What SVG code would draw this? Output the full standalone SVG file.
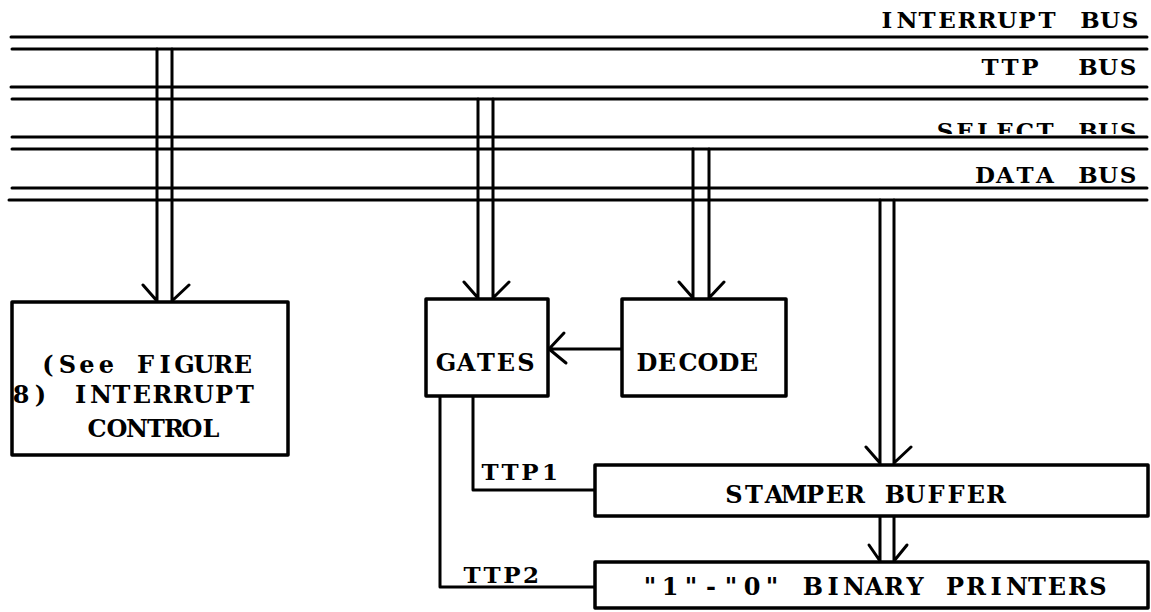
<svg xmlns="http://www.w3.org/2000/svg" width="1151" height="612" viewBox="0 0 1151 612">
<style>
.ln{stroke:#000;stroke-width:3;fill:none;stroke-linecap:round;stroke-linejoin:round}
.bx{stroke:#000;stroke-width:3.5;fill:#fff;stroke-linejoin:round}
.t{font-family:"DejaVu Serif","Liberation Serif",serif;font-weight:bold;font-size:23px;text-anchor:middle;fill:#000}
.b{font-size:24px}
</style>
<defs>
<clipPath id="selclip"><rect x="900" y="100" width="251" height="34"/></clipPath>
</defs>
<rect width="1151" height="612" fill="#fff"/>
<g id="buses">
<line class="ln" x1="11" y1="37" x2="1147" y2="37"/>
<line class="ln" x1="12" y1="49" x2="1147" y2="49"/>
<line class="ln" x1="11" y1="87" x2="1147" y2="87"/>
<line class="ln" x1="12" y1="99" x2="1147" y2="99"/>
<line class="ln" x1="12" y1="137" x2="1147" y2="137"/>
<line class="ln" x1="12" y1="149" x2="1147" y2="149"/>
<line class="ln" x1="12" y1="188" x2="1147" y2="188"/>
<line class="ln" x1="9" y1="200" x2="1147" y2="200"/>
<text class="t" x="887 907 927 947 967 987 1007 1027 1047 1068 1090 1110 1130" y="28">INTERRUPT BUS</text>
<text class="t" x="990 1010 1030 1059 1088 1108 1128" y="75">TTP BUS</text>
<text class="t" clip-path="url(#selclip)" x="945 965 985 1005 1025 1045 1066 1088 1108 1128" y="139">SELECT BUS</text>
<text class="t" x="985 1005 1025 1045 1066 1088 1108 1128" y="183">DATA BUS</text>
</g>
<g id="connectors">
<path class="ln" d="M157 49V302M172 49V302M143 285L157 301M172 301L189 285"/>
<path class="ln" d="M478 99V299M493 99V299M464 282L478 298M493 298L509 282"/>
<path class="ln" d="M693 149V299M709 149V299M679 282L693 298M709 298L724 282"/>
<path class="ln" d="M880 200V464M894 200V464M866 447L880 463M894 463L911 447"/>
<path class="ln" d="M880 516V562M894 516V562M869 545L880 561M894 561L907 545"/>
<path class="ln" d="M622 349H549M564 333L549 349L566 363"/>
<path class="ln" d="M473 396V490H595"/>
<path class="ln" d="M440 396V587H595"/>
<text class="t" x="490 510 530 550" y="480">TTP1</text>
<text class="t" x="472 492 512 531" y="583">TTP2</text>
</g>
<g id="interrupt-control">
<rect class="bx" x="12" y="302" width="276" height="153"/>
<text class="t b" x="48 67.5 87 106.5 126 145.5 165 184.5 204 223.5 243" y="373">(See FIGURE</text>
<text class="t b" x="21 40.5 60 80.5 101 121.5 142 162.5 183 203.5 224 245" y="403">8) INTERRUPT</text>
<text class="t b" x="97 117 137 156 174 192 211" y="437">CONTROL</text>
</g>
<g id="gates">
<rect class="bx" x="426" y="299" width="122" height="97"/>
<text class="t b" x="446 466 486 506 526" y="371">GATES</text>
</g>
<g id="decode">
<rect class="bx" x="622" y="299" width="164" height="97"/>
<text class="t b" x="647 667 688 708 729 749" y="371">DECODE</text>
</g>
<g id="stamper-buffer">
<rect class="bx" x="595" y="465" width="553" height="51"/>
<text class="t b" x="734 754 774 794 815 835 855 875 895 915 936 956 976 996" y="503">STAMPER BUFFER</text>
</g>
<g id="binary-printers">
<rect class="bx" x="595" y="562" width="553" height="46"/>
<text class="t b" x="650 670 691 711 731 752 772 793 813 833 854 874 894 915 935 955 976 996 1017 1037 1057 1078 1098" y="595">"1"-"0" BINARY PRINTERS</text>
</g>
</svg>
